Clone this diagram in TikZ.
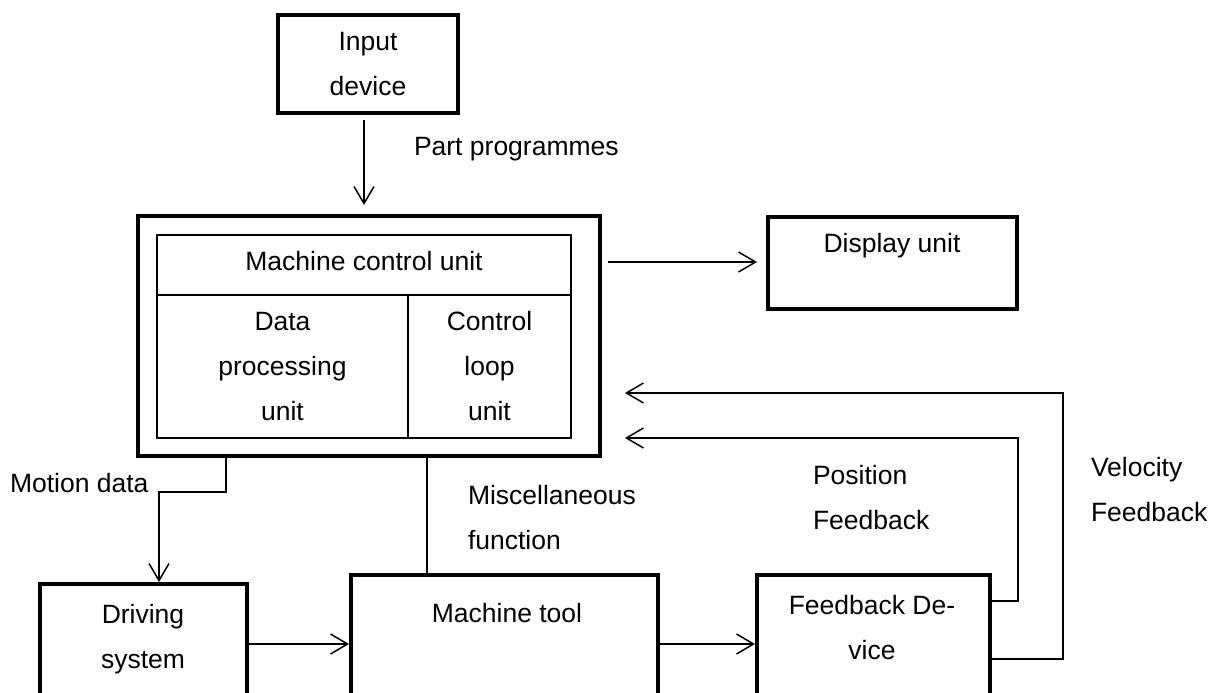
\documentclass[tikz,border=0pt]{standalone}
\usepackage{fontspec}
\setmainfont{Liberation Sans}
\usetikzlibrary{arrows.meta,calc}

\begin{document}
\begin{tikzpicture}[x=1pt,y=-1pt,
  every node/.style={font=\fontsize{26.5}{45}\selectfont, inner sep=0pt, outer sep=0pt},
  box/.style={draw, line width=4pt, rectangle},
  cell/.style={draw, line width=1.2pt, rectangle},
  conn/.style={line width=1.5pt},
  arr/.style={conn, -{Straight Barb[length=17pt,width=20pt,line width=1.5pt]}},
  txt/.style={anchor=north, align=center},
  lbl/.style={anchor=north west, align=left},
]
\useasboundingbox (0,0) rectangle (1208,693);
\clip (0,0) rectangle (1208,693);

% blocks
\node[box, minimum width=180pt, minimum height=98pt, align=center] (inp) at (368,64) {Input\\device};
\node[box, minimum width=462pt, minimum height=240pt] (mcu) at (369,336) {};
\node[cell, minimum width=414pt, minimum height=60pt, text depth=8pt] (title) at (364,265) {Machine control unit};
\node[cell, minimum width=251pt, minimum height=143pt, align=center] (dpu) at (282.5,366.5) {Data\\processing\\unit};
\node[cell, minimum width=163pt, minimum height=143pt, align=center] (clu) at (489.5,366.5) {Control\\loop\\unit};
\node[box, minimum width=249pt, minimum height=92pt] (disp) at (892.5,263) {};
\node[box, minimum width=207pt, minimum height=140pt] (drv) at (143.5,654) {};
\node[box, minimum width=307pt, minimum height=140pt] (mt) at (504.5,645) {};
\node[box, minimum width=233pt, minimum height=140pt] (fb) at (873.5,645) {};

% texts inside the blocks
\node[txt] (disptxt) at (892,233) {Display unit};
\node[txt] (drvtxt) at (143,604) {Driving\\system};
\node[txt] (mttxt) at (507,603) {Machine tool};
\node[txt] (fbtxt) at (872,595) {Feedback De-\\vice};

% connector labels
\node[lbl] (lpart) at (414,137) {Part programmes};
\node[lbl] (lmot) at (10,473) {Motion data};
\node[lbl] (lmisc) at (468,485) {Miscellaneous\\function};
\node[lbl] (lpos) at (813,465) {Position\\Feedback};
\node[lbl] (lvel) at (1091,457) {Velocity\\Feedback};

% helper coordinates
\coordinate (dy) at (0,262);
\coordinate (vel) at (1063,393);
\coordinate (pos) at (1018,438);
\coordinate (vlow) at (0,659);
\coordinate (plow) at (0,601);
\coordinate (mx) at (226,492);
\coordinate (mx2) at (159,492);
\coordinate (mf) at (427,0);
\coordinate (by) at (0,644);

% connectors
\draw[arr, shorten <=7pt, shorten >=11pt] ([xshift=-4pt]inp.south) -- ([xshift=-4pt]inp.south |- mcu.north);
\draw[arr, shorten <=8pt, shorten >=11pt] (mcu.east |- dy) -- (disp.west |- dy);
\draw[arr, shorten >=25pt] (fb.east |- vlow) -| (vel) -- (mcu.east |- vel);
\draw[arr, shorten >=25pt] (fb.east |- plow) -| (pos) -- (mcu.east |- pos);
\draw[arr, shorten >=2pt] (mcu.south -| mx) |- (mx2) -- (drv.north -| mx2);
\draw[conn] (mcu.south -| mf) -- (mt.north -| mf);
\draw[arr, shorten >=2pt] (drv.east |- by) -- (mt.west |- by);
\draw[arr, shorten >=2pt] (mt.east |- by) -- (fb.west |- by);
\end{tikzpicture}
\end{document}
